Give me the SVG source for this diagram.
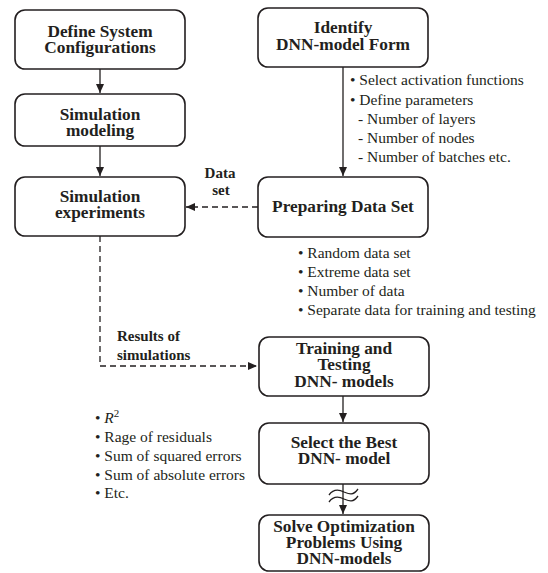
<svg xmlns="http://www.w3.org/2000/svg" width="548" height="573" viewBox="0 0 548 573">
<style>
.box{fill:#fff;stroke:#231f20;stroke-width:1.6}
.t{font-family:"Liberation Serif","Times New Roman",serif;font-weight:bold;font-size:17.3px;fill:#231f20;text-anchor:middle}
.l{font-family:"Liberation Serif","Times New Roman",serif;font-weight:bold;font-size:15px;fill:#231f20}
.b{font-family:"Liberation Serif","Times New Roman",serif;font-size:15.5px;fill:#231f20}
.c{stroke:#231f20;stroke-width:1.3;fill:none}
.d{stroke-dasharray:6,4}
</style>
<defs>
<marker id="ah" markerWidth="10" markerHeight="10" refX="9" refY="5" orient="auto" markerUnits="userSpaceOnUse">
<path d="M0,1 L9,5 L0,9 Z" fill="#231f20"/>
</marker>
</defs>
<rect width="548" height="573" fill="#fff"/>
<g id="connectors">
<line class="c" x1="100" y1="69" x2="100" y2="93" marker-end="url(#ah)"/>
<line class="c" x1="100" y1="146" x2="100" y2="176" marker-end="url(#ah)"/>
<line class="c" x1="343" y1="67" x2="343" y2="176" marker-end="url(#ah)"/>
<line class="c d" x1="258" y1="207" x2="186" y2="207" marker-end="url(#ah)"/>
<polyline class="c d" points="100,236 100,366 257,366" marker-end="url(#ah)"/>
<line class="c" x1="343" y1="396" x2="343" y2="422" marker-end="url(#ah)"/>
<line class="c" x1="343" y1="484" x2="343" y2="514" marker-end="url(#ah)"/>
<path class="c" d="M329,495 C334,488 340,490 344,492 C349,494 353,496 358,489" stroke-width="1.3"/>
<path class="c" d="M329,502 C334,495 340,497 344,499 C349,501 353,503 358,496" stroke-width="1.3"/>
</g>
<g id="n1"><rect class="box" x="15" y="10" width="170" height="59" rx="10"/>
<text class="t" x="100" y="37">Define System</text><text class="t" x="100" y="53">Configurations</text></g>
<g id="n2"><rect class="box" x="15" y="94" width="170" height="52" rx="10"/>
<text class="t" x="100" y="120">Simulation</text><text class="t" x="100" y="136">modeling</text></g>
<g id="n3"><rect class="box" x="15" y="177" width="170" height="59" rx="10"/>
<text class="t" x="100" y="202">Simulation</text><text class="t" x="100" y="218">experiments</text></g>
<g id="n4"><rect class="box" x="258" y="8" width="170" height="59" rx="10"/>
<text class="t" x="343" y="33">Identify</text><text class="t" x="343" y="50">DNN-model Form</text></g>
<g id="n5"><rect class="box" x="258" y="177" width="170" height="60" rx="10"/>
<text class="t" x="343" y="212">Preparing Data Set</text></g>
<g id="n6"><rect class="box" x="259" y="337" width="170" height="59" rx="10"/>
<text class="t" x="344" y="354">Training and</text><text class="t" x="344" y="370">Testing</text><text class="t" x="344" y="387">DNN- models</text></g>
<g id="n7"><rect class="box" x="259" y="423" width="170" height="61" rx="10"/>
<text class="t" x="344" y="448">Select the Best</text><text class="t" x="344" y="464">DNN- model</text></g>
<g id="n8"><rect class="box" x="259" y="515" width="170" height="56" rx="10"/>
<text class="t" x="344" y="532">Solve Optimization</text><text class="t" x="344" y="548">Problems Using</text><text class="t" x="344" y="564">DNN-models</text></g>
<g id="labels">
<text class="l" x="220" y="178" text-anchor="middle">Data</text>
<text class="l" x="221" y="195" text-anchor="middle">set</text>
<text class="l" x="117" y="341">Results of</text>
<text class="l" x="117" y="360">simulations</text>
</g>
<g id="notes">
<text class="b" x="350" y="85">• Select activation functions</text>
<text class="b" x="350" y="105">• Define parameters</text>
<text class="b" x="358" y="124">- Number of layers</text>
<text class="b" x="358" y="143">- Number of nodes</text>
<text class="b" x="358" y="162">- Number of batches etc.</text>
<text class="b" x="298" y="258">• Random data set</text>
<text class="b" x="298" y="277">• Extreme data set</text>
<text class="b" x="298" y="296">• Number of data</text>
<text class="b" x="298" y="315">• Separate data for training and testing</text>
<text class="b" x="95" y="423">• <tspan font-style="italic">R</tspan><tspan font-size="11" dy="-6">2</tspan></text>
<text class="b" x="95" y="442">• Rage of residuals</text>
<text class="b" x="95" y="461">• Sum of squared errors</text>
<text class="b" x="95" y="480">• Sum of absolute errors</text>
<text class="b" x="95" y="498">• Etc.</text>
</g>
</svg>
